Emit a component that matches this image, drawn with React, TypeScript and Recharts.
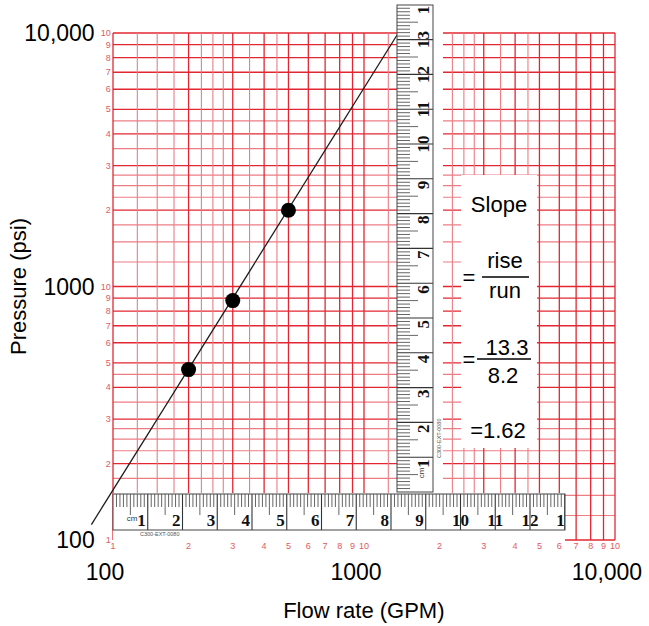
import React from "react";
import { ComposedChart, Line, Scatter, XAxis, YAxis, ReferenceLine } from "recharts";

// measured flow / pressure pairs
const flowRate = [200, 300, 500];
const pressure = [470, 880, 2000];

// straight line drawn through the points, end to end
const fitFlow = [82, 1370];
const fitPressure = [115, 10000];

// two-cycle log paper: decade starts and the rulings inside each decade
const decadeStarts = [100, 1000];
const rulingSteps = [1, 1.25, 1.5, 1.75, 2, 2.25, 2.5, 2.75, 3, 3.5, 4, 4.5, 5, 6, 7, 8, 9];
const labelSteps = [1, 2, 3, 4, 5, 6, 7, 8, 9];

// slope worked out with the rulers
const slopeRise = "13.3";
const slopeRun = "8.2";
const slopeResult = "1.62";

const points = flowRate.map((q, i) => ({ q, p: pressure[i] }));
const fit = fitFlow.map((q, i) => ({ q, p: fitPressure[i] }));
const rulings = [...decadeStarts.flatMap((d) => rulingSteps.map((s) => d * s)), 10000];
const labelTicks = [...decadeStarts.flatMap((d) => labelSteps.map((s) => d * s)), 10000];

const SANS = "'Liberation Sans', Arial, sans-serif";
const SERIF = "'Liberation Serif', 'DejaVu Serif', serif";
const PAPER_RED = "#e05a63";
const RULE_MAJOR = "#e32732";
const RULE_MINOR = "#ec7d85";

const leadDigit = (v: number) => v / Math.pow(10, Math.floor(Math.log10(v) + 1e-9));
const isDecade = (v: number) => v === 100 || v === 1000 || v === 10000;
const paperDigit = (v: number) => {
  if (v === 100) return "1";
  const lead = Math.round(leadDigit(v));
  return lead === 1 ? "10" : String(lead);
};
const bigLabel = (v: number) => (v === 10000 ? "10,000" : String(v));
const ruleStroke = (v: number) => (Number.isInteger(leadDigit(v)) ? RULE_MAJOR : RULE_MINOR);
const ruleWidth = (v: number) => (Number.isInteger(leadDigit(v)) ? 1.3 : 1.1);

const FlowTick = (props: any) => {
  const { x, y, payload } = props;
  const v = payload.value;
  return (
    <g>
      <text x={x} y={y + 9} textAnchor="middle" fontSize={9} fill={PAPER_RED} fontFamily={SANS}>
        {paperDigit(v)}
      </text>
      {isDecade(v) && (
        <text x={x - 8} y={y + 40} textAnchor="middle" fontSize={23} fill="#000" fontFamily={SANS}>
          {bigLabel(v)}
        </text>
      )}
    </g>
  );
};

const PressureTick = (props: any) => {
  const { x, y, payload } = props;
  const v = payload.value;
  return (
    <g>
      <text x={x + 22} y={y + 3} textAnchor="end" fontSize={9} fill={PAPER_RED} fontFamily={SANS}>
        {paperDigit(v)}
      </text>
      {isDecade(v) && (
        <text x={x + 6} y={y + 8} textAnchor="end" fontSize={23} fill="#000" fontFamily={SANS}>
          {bigLabel(v)}
        </text>
      )}
    </g>
  );
};

const Dot = (props: any) => <circle cx={props.cx} cy={props.cy} r={7.5} fill="#000" />;

// centimetre rule, drawn along x with its ticks hanging from y = 0
const RULER_W = 36;
const Ruler = ({ id, length, cm, transform }: { id: string; length: number; cm: number; transform: string }) => {
  const marks = [];
  const total = Math.floor((length / cm) * 10);
  for (let k = 1; k <= total; k++) {
    const x = (k * cm) / 10;
    const whole = k % 10 === 0;
    const len = whole ? RULER_W : k % 5 === 0 ? 21 : 13;
    marks.push(
      <line
        key={k}
        x1={x}
        x2={x}
        y1={0}
        y2={len}
        stroke={whole ? "#333" : "#666"}
        strokeWidth={whole ? 1.1 : 1}
      />
    );
  }
  const numbers = [];
  for (let n = 1; n <= Math.ceil(length / cm); n++) {
    const past = n * cm > length;
    // a number running off the end only shows its first digit
    const label = past ? String(n).slice(0, 1) : String(n);
    numbers.push(
      <text
        key={n}
        x={n < 10 ? n * cm - 2 : past ? n * cm - 1 : n * cm}
        y={RULER_W - 4}
        textAnchor={n < 10 || past ? "end" : "middle"}
        fontSize={17}
        fontWeight="bold"
        fontFamily={SERIF}
        fill="#111"
      >
        {label}
      </text>
    );
  }
  return (
    <g transform={transform}>
      <defs>
        <clipPath id={id}>
          <rect x={0} y={0} width={length} height={RULER_W} />
        </clipPath>
      </defs>
      <rect x={0} y={0} width={length} height={RULER_W} fill="#fff" />
      <g clipPath={`url(#${id})`}>
        {marks}
        {numbers}
        <text x={19} y={RULER_W - 9} textAnchor="middle" fontSize={8} fontFamily={SANS} fill="#333">
          cm
        </text>
      </g>
      <rect x={0} y={0} width={length} height={RULER_W} fill="none" stroke="#444" strokeWidth={1} />
    </g>
  );
};

const Overlay = () => (
  <svg
    width={649}
    height={626}
    style={{ position: "absolute", left: 0, top: 0, pointerEvents: "none" }}
  >
    {/* vertical rule laid over the paper */}
    <rect x={397} y={0} width={46} height={494} fill="#fff" />
    <Ruler id="rule-v" length={487} cm={34.8} transform="translate(397,492) rotate(-90)" />
    <text transform="translate(441,458) rotate(-90)" fontSize={5.5} fontFamily={SANS} fill="#555">
      C300-EXT-0080
    </text>

    {/* horizontal rule along the bottom */}
    <rect x={113} y={493} width={452} height={48} fill="#fff" />
    <Ruler id="rule-h" length={452} cm={34.75} transform="translate(113,494)" />
    <text x={140} y={536} fontSize={5.5} fontFamily={SANS} fill="#555">
      C300-EXT-0080
    </text>

    {/* slope worked on a blank patch */}
    <rect x={461} y={175} width={76} height={273} fill="#fff" />
    <g fontFamily={SANS} fontSize={22} fill="#000">
      <text x={499} y={212} textAnchor="middle">Slope</text>
      <text x={469} y={285} textAnchor="middle">=</text>
      <text x={505} y={268} textAnchor="middle">rise</text>
      <line x1={482} x2={529} y1={277} y2={277} stroke="#000" strokeWidth={1.5} />
      <text x={505} y={298} textAnchor="middle">run</text>
      <text x={469} y={367} textAnchor="middle">=</text>
      <text x={507} y={355} textAnchor="middle">{slopeRise}</text>
      <line x1={477} x2={531} y1={359} y2={359} stroke="#000" strokeWidth={1.5} />
      <text x={503} y={383} textAnchor="middle">{slopeRun}</text>
      <text x={498} y={438} textAnchor="middle">={slopeResult}</text>
    </g>
  </svg>
);

export default function App() {
  return (
    <div style={{ position: "absolute", left: 0, top: 0, width: 649, height: 626, background: "#fff" }}>
      <ComposedChart width={649} height={626} margin={{ top: 33, right: 34, bottom: 0, left: 0 }}>
        <XAxis
          dataKey="q"
          type="number"
          scale="log"
          domain={[80, 10000]}
          ticks={labelTicks}
          interval={0}
          height={86}
          axisLine={false}
          tickLine={false}
          tickSize={0}
          tickMargin={0}
          tick={<FlowTick />}
          label={{
            value: "Flow rate (GPM)",
            position: "insideBottom",
            offset: 8,
            dx: 12,
            fontSize: 22,
            fill: "#000",
            fontFamily: SANS,
          }}
        />
        <YAxis
          dataKey="p"
          type="number"
          scale="log"
          domain={[100, 10000]}
          ticks={labelTicks}
          interval={0}
          width={88.68}
          axisLine={false}
          tickLine={false}
          tickSize={0}
          tickMargin={0}
          tick={<PressureTick />}
          label={{
            value: "Pressure (psi)",
            position: "insideLeft",
            angle: -90,
            offset: 18,
            fontSize: 22,
            fill: "#000",
            fontFamily: SANS,
            style: { textAnchor: "middle" },
          }}
        />
        {rulings.map((v) => (
          <ReferenceLine
            key={`h${v}`}
            segment={[
              { x: 100, y: v },
              { x: 10000, y: v },
            ]}
            stroke={ruleStroke(v)}
            strokeWidth={ruleWidth(v)}
          />
        ))}
        {rulings.map((v) => (
          <ReferenceLine
            key={`v${v}`}
            segment={[
              { x: v, y: 100 },
              { x: v, y: 10000 },
            ]}
            stroke={ruleStroke(v)}
            strokeWidth={ruleWidth(v)}
          />
        ))}
        <Line
          data={fit}
          dataKey="p"
          type="linear"
          stroke="#1c1c1c"
          strokeWidth={1.3}
          dot={false}
          activeDot={false}
          isAnimationActive={false}
        />
        <Scatter data={points} dataKey="p" fill="#000" shape={<Dot />} isAnimationActive={false} />
      </ComposedChart>
      <Overlay />
    </div>
  );
}
